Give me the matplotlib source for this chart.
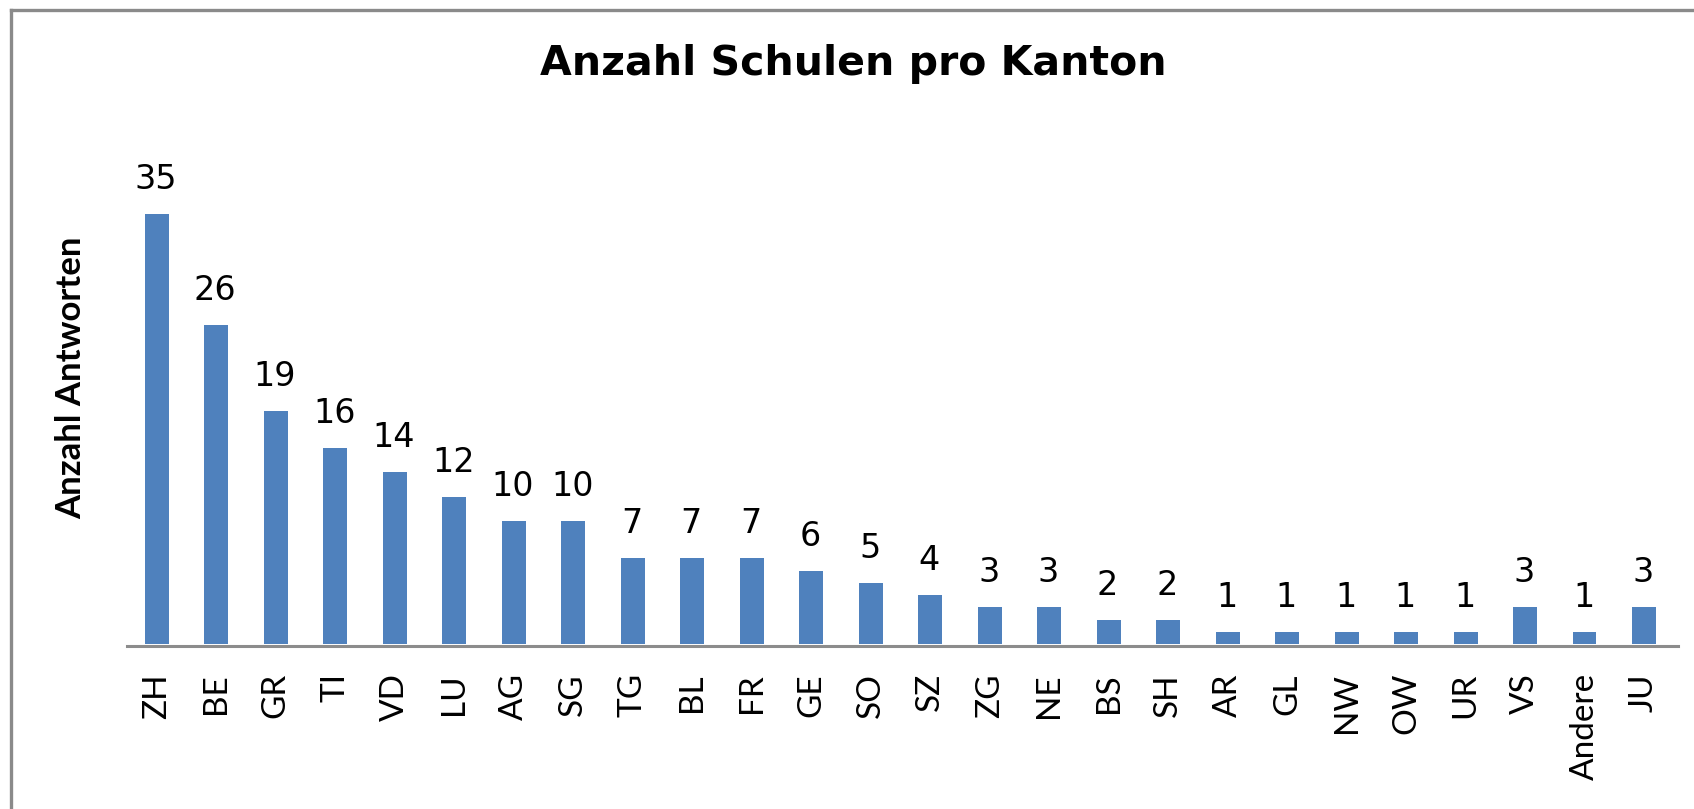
import matplotlib
matplotlib.use("Agg")
import matplotlib.pyplot as plt
from matplotlib.lines import Line2D

categories = ["ZH", "BE", "GR", "TI", "VD", "LU", "AG", "SG", "TG", "BL", "FR", "GE", "SO",
              "SZ", "ZG", "NE", "BS", "SH", "AR", "GL", "NW", "OW", "UR", "VS", "Andere", "JU"]
values = [35, 26, 19, 16, 14, 12, 10, 10, 7, 7, 7, 6, 5, 4, 3, 3, 2, 2, 1, 1, 1, 1, 1, 3, 1, 3]

title = "Anzahl Schulen pro Kanton"
ylabel = "Anzahl Antworten"

W, H = 1694, 809
fig = plt.figure(figsize=(W / 100, H / 100), dpi=100)
fig.patch.set_facecolor("white")

# axes placement (pixels)
ax_left_px, ax_right_px, base_px = 127, 1678, 646
px_per_unit = 12.29
ymin, ymax = -0.14, 40
top_px = base_px - (ymax - ymin) * px_per_unit
ax = fig.add_axes([ax_left_px / W, 1 - base_px / H,
                   (ax_right_px - ax_left_px) / W, (base_px - top_px) / H])

x = list(range(len(categories)))
ax.bar(x, values, width=0.40, color="#4F81BD", zorder=2)
ax.set_xlim(-0.5, len(categories) - 1 + 0.57)
ax.set_ylim(ymin, ymax)

for xi, v in zip(x, values):
    ax.annotate(str(v), (xi, v), xytext=(-1, 25), textcoords="offset pixels",
                ha="center", va="baseline", fontsize=24, family="DejaVu Sans",
                color="black")

ax.set_xticks(x)
ax.set_xticklabels(categories, rotation=90, fontsize=24, family="Lato")
ax.tick_params(axis="x", length=0, pad=19.5)
ax.set_yticks([])
for s in ["top", "right", "left"]:
    ax.spines[s].set_visible(False)
ax.spines["bottom"].set_color("#8c8c8c")
ax.spines["bottom"].set_linewidth(2.2)
ax.spines["bottom"].set_zorder(3)
ax.set_facecolor("none")

fig.text(853.5 / W, 1 - 75 / H, title, ha="center", va="baseline", fontsize=29.5,
         fontweight="bold", family="DejaVu Sans")
fig.text(71 / W, 1 - 378 / H, ylabel, ha="center", va="center", rotation=90,
         fontsize=25, fontweight="bold", family="Lato")

# chart frame (cropped on right/bottom)
fig.add_artist(Line2D([11 / W, 11 / W], [0, 1 - 10 / H], transform=fig.transFigure,
                      color="#8a8a8a", linewidth=2.4))
fig.add_artist(Line2D([11 / W, 1], [1 - 10 / H, 1 - 10 / H], transform=fig.transFigure,
                      color="#8a8a8a", linewidth=2.4))

fig.savefig("out.png", dpi=100, facecolor="white")
